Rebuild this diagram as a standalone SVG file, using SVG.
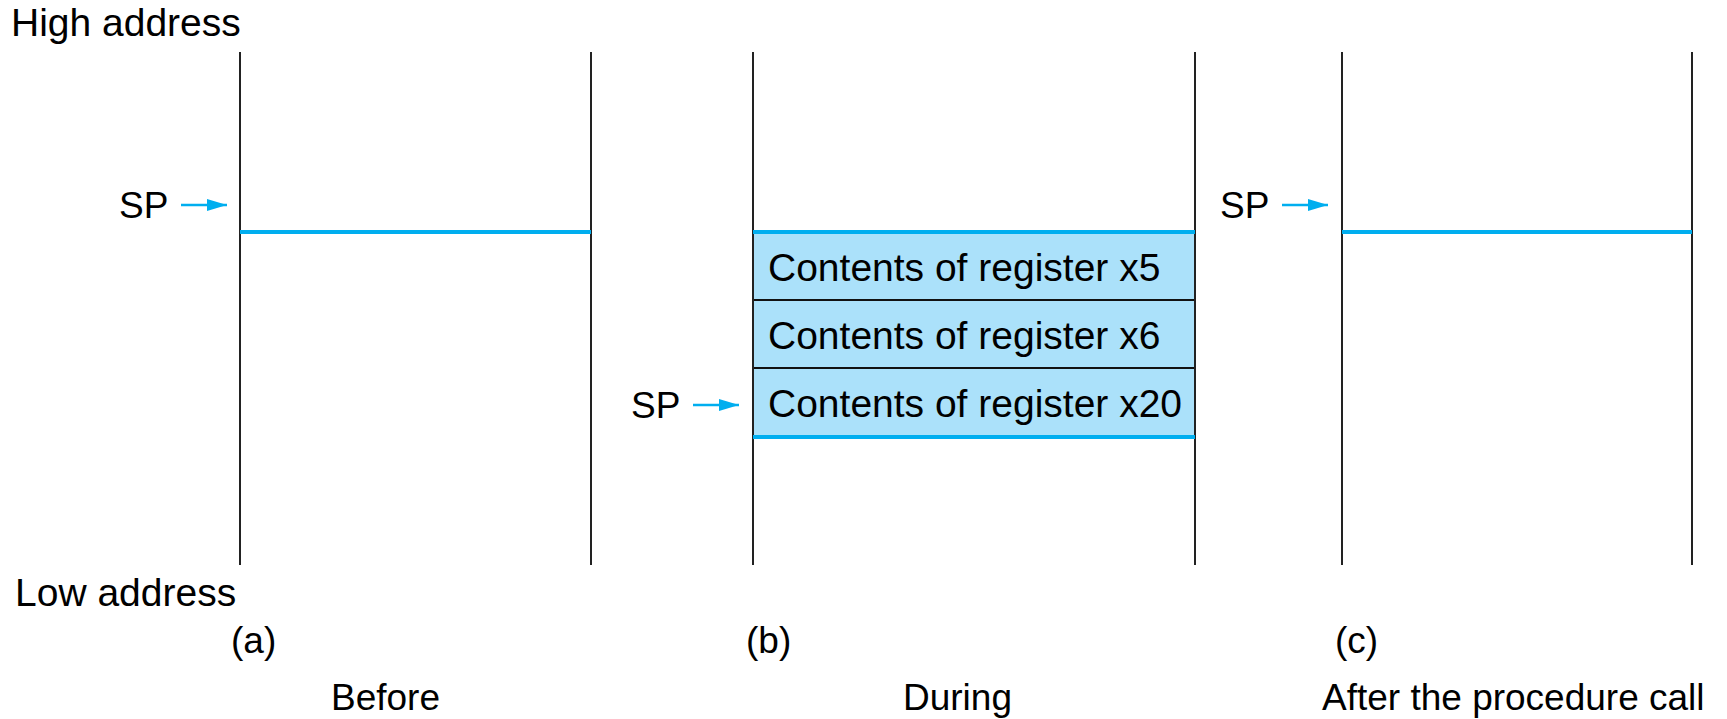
<svg xmlns="http://www.w3.org/2000/svg" width="1727" height="719" viewBox="0 0 1727 719">
  <style>
    text { font-family: "Liberation Sans", Arial, sans-serif; font-size: 37px; fill: #000; }
    .big { font-size: 39px; }
    .wall { stroke: #222; stroke-width: 2; fill: none; }
    .sp-line { stroke: #00aeef; stroke-width: 4; fill: none; }
    .slot { fill: #abe1fa; stroke: none; }
    .divider { stroke: #111; stroke-width: 2; }
    .ptr { stroke: #00aeef; stroke-width: 2.5; fill: none; marker-end: url(#head); }
  </style>
  <defs>
    <marker id="head" viewBox="0 0 20 12" refX="20" refY="6" markerWidth="20" markerHeight="12" markerUnits="userSpaceOnUse" orient="auto">
      <path d="M0,0 L20,6 L0,12 Z" fill="#00aeef"/>
    </marker>
  </defs>

  <!-- address labels -->
  <g id="high-address"><text class="big" x="11" y="36">High address</text></g>
  <g id="low-address"><text class="big" x="15" y="606">Low address</text></g>

  <!-- (a) stack before the call -->
  <g id="stack-a">
    <line class="wall" x1="240" y1="52" x2="240" y2="565"/>
    <line class="wall" x1="591" y1="52" x2="591" y2="565"/>
    <line class="sp-line" x1="240" y1="232" x2="591" y2="232"/>
    <text x="119" y="218">SP</text>
    <text x="231" y="653">(a)</text>
    <text x="331" y="710">Before</text>
  </g>

  <!-- (b) stack during the call, three saved registers -->
  <g id="stack-b">
    <rect class="slot" x="753" y="232" width="442" height="205"/>
    <line class="divider" x1="753" y1="300" x2="1195" y2="300"/>
    <line class="divider" x1="753" y1="368" x2="1195" y2="368"/>
    <line class="wall" x1="753" y1="52" x2="753" y2="565"/>
    <line class="wall" x1="1195" y1="52" x2="1195" y2="565"/>
    <line class="sp-line" x1="753" y1="232" x2="1195" y2="232"/>
    <line class="sp-line" x1="753" y1="437" x2="1195" y2="437"/>
    <text class="big" x="768" y="281">Contents of register x5</text>
    <text class="big" x="768" y="349">Contents of register x6</text>
    <text class="big" x="768" y="417">Contents of register x20</text>
    <text x="631" y="418">SP</text>
    <text x="746" y="653">(b)</text>
    <text x="903" y="710">During</text>
  </g>

  <!-- (c) stack after the call -->
  <g id="stack-c">
    <line class="wall" x1="1342" y1="52" x2="1342" y2="565"/>
    <line class="wall" x1="1692" y1="52" x2="1692" y2="565"/>
    <line class="sp-line" x1="1342" y1="232" x2="1692" y2="232"/>
    <text x="1220" y="218">SP</text>
    <text x="1335" y="653">(c)</text>
    <text x="1322" y="710">After the procedure call</text>
  </g>

  <!-- stack pointer arrows -->
  <g id="connectors">
    <line class="ptr" x1="181" y1="205" x2="227" y2="205"/>
    <line class="ptr" x1="693" y1="405" x2="739" y2="405"/>
    <line class="ptr" x1="1282" y1="205" x2="1328" y2="205"/>
  </g>
</svg>
